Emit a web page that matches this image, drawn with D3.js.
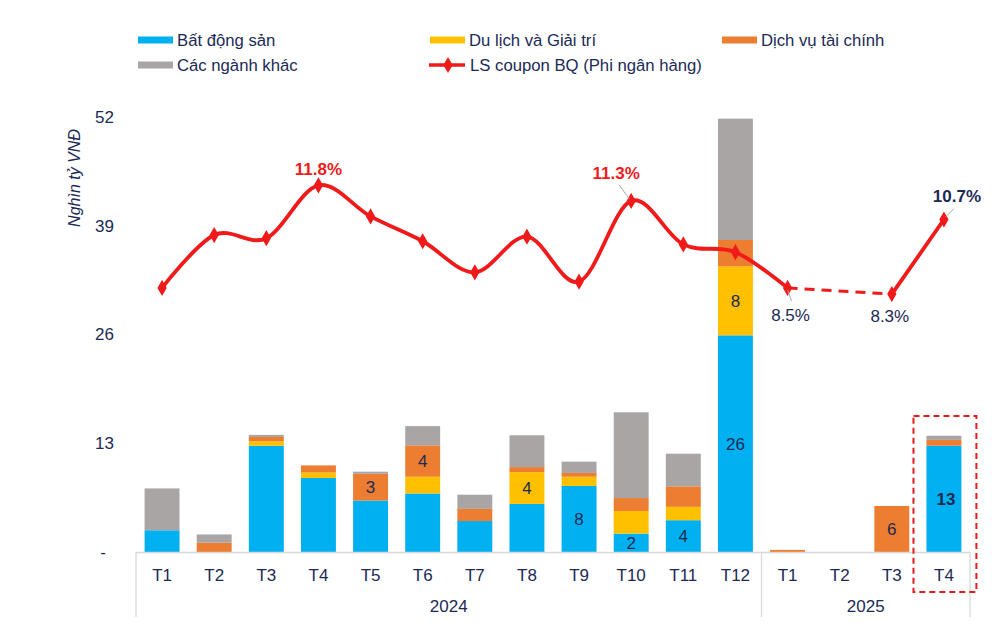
<!DOCTYPE html>
<html><head><meta charset="utf-8">
<script src="https://cdn.jsdelivr.net/npm/d3@7"></script>
<style>
html,body{margin:0;padding:0;background:#fff;}
svg{display:block;font-family:"Liberation Sans",Arial,sans-serif;}
</style></head>
<body>
<svg id="chart" width="997" height="634"></svg>
<script>
// ---- Data ----
const categories = ["T1","T2","T3","T4","T5","T6","T7","T8","T9","T10","T11","T12","T1","T2","T3","T4"];
const years = ["2024","2024","2024","2024","2024","2024","2024","2024","2024","2024","2024","2024","2025","2025","2025","2025"];
const yearGroups = ["2024","2025"];
const batDongSan = [2.6, 0, 12.7, 8.85, 6.15, 7.0, 3.7, 5.75, 7.9, 2.2, 3.8, 25.9, 0, 0, 0, 12.7];
const duLichGiaiTri = [0, 0, 0.55, 0.65, 0, 2.0, 0, 3.8, 1.1, 2.7, 1.6, 8.25, 0, 0, 0, 0];
const dichVuTaiChinh = [0, 1.1, 0.5, 0.85, 3.2, 3.75, 1.45, 0.6, 0.45, 1.55, 2.45, 3.15, 0.25, 0, 5.5, 0.7];
const nganhKhac = [5.0, 1.0, 0.25, 0, 0.25, 2.3, 1.7, 3.8, 1.35, 10.25, 3.9, 14.5, 0, 0, 0, 0.5];
const couponRate = [8.5, 10.2, 10.1, 11.8, 10.8, 10.0, 9.0, 10.15, 8.7, 11.3, 9.9, 9.65, 8.5, null, 8.3, 10.7];
const yTicks = [0, 13, 26, 39, 52];
const seriesNames = ["Bất động sản","Du lịch và Giải trí","Dịch vụ tài chính","Các ngành khác"];
const lineName = "LS coupon BQ (Phi ngân hàng)";
const yTitle = "Nghìn tỷ VNĐ";
// segments that carry a value label: [index, series key]
const labeledSegments = [[4,"dv"],[5,"dv"],[7,"dl"],[8,"bds"],[9,"bds"],[10,"bds"],[11,"bds"],[11,"dl"],[14,"dv"],[15,"bds"]];
// coupon points that carry a label
const labeledPoints = [3, 9, 12, 14, 15];

// ---- Setup ----
const NAVY = "#1b2a55";
const RED = "#f01a1a";
const colors = {bds:"#00b0f0", dl:"#ffc000", dv:"#ed7d31", khac:"#a9a5a5"};
const keys = ["bds","dl","dv","khac"];
const rows = categories.map((c,i)=>({i, bds:batDongSan[i], dl:duLichGiaiTri[i], dv:dichVuTaiChinh[i], khac:nganhKhac[i]}));

const svg = d3.select("#chart");
const x = d3.scaleBand().domain(d3.range(categories.length)).range([136, 970]).paddingInner(0.33).paddingOuter(0.165);
const y = d3.scaleLinear().domain([0, 52]).range([552, 117]);
const y2 = d3.scaleLinear().domain([0, 14]).range([552, 117]);

// ---- Y axis (no line) ----
const yAxis = d3.axisLeft(y).tickValues(yTicks).tickSize(0).tickPadding(0)
  .tickFormat(d => d === 0 ? "-" : d);
const yg = svg.append("g").attr("transform","translate(114,0)").call(yAxis);
yg.select(".domain").remove();
yg.selectAll("text").attr("fill", NAVY).style("font-size","17px")
  .style("font-family","'Liberation Sans',Arial,sans-serif")
  .attr("dx", d => d === 0 ? -8 : 0);

svg.append("text").attr("transform","translate(80,178) rotate(-90)")
  .attr("text-anchor","middle").attr("fill", NAVY).style("font-size","16px")
  .style("font-style","italic").text(yTitle);

// ---- Stacked bars ----
const stack = d3.stack().keys(keys)(rows);
svg.append("g").selectAll("g").data(stack).join("g")
  .attr("fill", d => colors[d.key])
  .selectAll("rect").data(d => d).join("rect")
  .attr("x", d => x(d.data.i))
  .attr("width", x.bandwidth())
  .attr("y", d => y(d[1]))
  .attr("height", d => Math.max(0, y(d[0]) - y(d[1])));

// bar value labels
const stackByKey = {};
stack.forEach(s => stackByKey[s.key] = s);
labeledSegments.forEach(([i,k]) => {
  const seg = stackByKey[k][i];
  const last = i === categories.length - 1;
  svg.append("text")
    .attr("x", x(i) + x.bandwidth()/2 + (last ? 2 : 0))
    .attr("y", (y(seg[0]) + y(seg[1]))/2)
    .attr("dy","0.36em").attr("text-anchor","middle")
    .attr("fill", NAVY).style("font-size","17px")
    .style("font-weight", last ? "bold" : "normal")
    .text(Math.round(seg.data[k]));
});

// ---- X axis (category table) ----
const axisColor = "#d9d9d9";
const xg = svg.append("g");
xg.append("line").attr("x1",136).attr("x2",970).attr("y1",552.5).attr("y2",552.5).attr("stroke",axisColor).attr("stroke-width",1.3);
categories.forEach((c,i) => {
  xg.append("text").attr("x", x(i)+x.bandwidth()/2).attr("y", 575).attr("dy","0.35em")
    .attr("text-anchor","middle").attr("fill", NAVY).style("font-size","17px").text(c);
});
// year group separators and labels
const groupBounds = yearGroups.map(yr => {
  const idx = d3.range(categories.length).filter(i => years[i] === yr);
  return {yr, x0: x(idx[0]) - x.step()*x.paddingInner()/2, x1: x(idx[idx.length-1]) + x.bandwidth() + x.step()*x.paddingInner()/2};
});
const sepXs = [136].concat(groupBounds.map(g => g.x1));
sepXs.forEach(sx => {
  xg.append("line").attr("x1", sx).attr("x2", sx).attr("y1", 552).attr("y2", 617)
    .attr("stroke", axisColor).attr("stroke-width",1.3);
});
groupBounds.forEach((g, gi) => {
  const left = gi === 0 ? 136 : groupBounds[gi-1].x1;
  xg.append("text").attr("x", (left + g.x1)/2).attr("y", 606).attr("dy","0.35em")
    .attr("text-anchor","middle").attr("fill", NAVY).style("font-size","17px").text(g.yr);
});

// ---- Coupon line ----
const cx = i => x(i) + x.bandwidth()/2;
const pts = couponRate.map((v,i) => ({i, v})).filter(d => d.v !== null);
const runs = [];
let cur = [];
couponRate.forEach((v,i) => {
  if (v === null) { if (cur.length) runs.push(cur); cur = []; }
  else cur.push({i, v});
});
if (cur.length) runs.push(cur);
const line = d3.line().x(d => cx(d.i)).y(d => y2(d.v)).curve(d3.curveCardinal.tension(0));
runs.forEach(r => {
  svg.append("path").datum(r).attr("d", line).attr("fill","none")
    .attr("stroke", RED).attr("stroke-width", 3.8).attr("stroke-linejoin","round").attr("stroke-linecap","round");
});
for (let k = 0; k < runs.length - 1; k++) {
  const a = runs[k][runs[k].length-1], b = runs[k+1][0];
  svg.append("line").attr("x1", cx(a.i)).attr("y1", y2(a.v)).attr("x2", cx(b.i)).attr("y2", y2(b.v))
    .attr("stroke", RED).attr("stroke-width", 3).attr("stroke-dasharray","10,7");
}
const diamond = d3.symbol().type(d3.symbolDiamond).size(75);
svg.append("g").selectAll("path").data(pts).join("path")
  .attr("d", diamond).attr("transform", d => `translate(${cx(d.i)},${y2(d.v)})`)
  .attr("fill", RED);

// point labels
const fmtPct = v => v.toFixed(1) + "%";
const labelStyle = {
  3:  {dx: 0,  dy: -16, color: RED,  bold: true,  leader: null},
  9:  {dx: -15, dy: -28, color: RED,  bold: true,  leader: [[-12,-16],[-2,-2]]},
  12: {dx: 3,  dy: 27, color: NAVY, bold: false, leader: [[0,2],[4,13]]},
  14: {dx: -2, dy: 22, color: NAVY, bold: false, leader: null},
  15: {dx: 13, dy: -23, color: NAVY, bold: true,  leader: [[2,-3],[10,-11]]}
};
labeledPoints.forEach(i => {
  const s = labelStyle[i];
  const px = cx(i), py = y2(couponRate[i]);
  if (s.leader) {
    svg.append("line").attr("x1", px + s.leader[0][0]).attr("y1", py + s.leader[0][1])
      .attr("x2", px + s.leader[1][0]).attr("y2", py + s.leader[1][1])
      .attr("stroke","#a6a6a6").attr("stroke-width",1);
  }
  svg.append("text").attr("x", px + s.dx).attr("y", py + s.dy).attr("dy","0.35em")
    .attr("text-anchor","middle").attr("fill", s.color).style("font-size","17px")
    .style("font-weight", s.bold ? "bold" : "normal").text(fmtPct(couponRate[i]));
});

// highlight box around last column
const lastI = categories.length - 1;
svg.append("rect").attr("x", x(lastI) - 13).attr("y", 416).attr("width", x.bandwidth() + 28).attr("height", 176)
  .attr("fill","none").attr("stroke","#e31b1b").attr("stroke-width",2).attr("stroke-dasharray","6,4");

// ---- Legend ----
const legend = svg.append("g");
const legendItems = [
  {type:"bar", color: colors.bds, label: seriesNames[0], x: 138, y: 40},
  {type:"bar", color: colors.dl, label: seriesNames[1], x: 430, y: 40},
  {type:"bar", color: colors.dv, label: seriesNames[2], x: 722, y: 40},
  {type:"bar", color: colors.khac, label: seriesNames[3], x: 138, y: 65},
  {type:"line", color: RED, label: lineName, x: 429, y: 65}
];
legendItems.forEach(it => {
  if (it.type === "bar") {
    legend.append("rect").attr("x", it.x).attr("y", it.y - 3.5).attr("width", 35).attr("height", 7).attr("fill", it.color);
  } else {
    legend.append("line").attr("x1", it.x).attr("x2", it.x + 36).attr("y1", it.y).attr("y2", it.y)
      .attr("stroke", it.color).attr("stroke-width", 3.5);
    legend.append("path").attr("d", diamond).attr("transform", `translate(${it.x + 19},${it.y})`).attr("fill", it.color);
  }
  legend.append("text").attr("x", it.x + (it.type === "bar" ? 39 : 41)).attr("y", it.y).attr("dy","0.35em")
    .attr("fill", NAVY).style("font-size","16.7px").text(it.label);
});
</script>
</body></html>
